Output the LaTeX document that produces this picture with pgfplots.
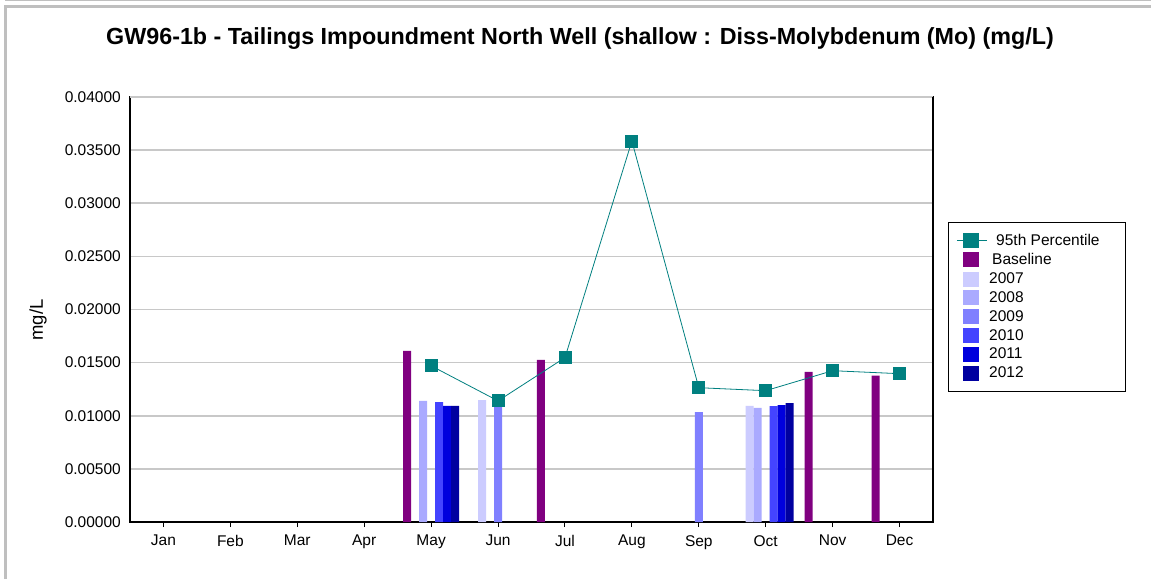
\documentclass[border=0pt]{standalone}
\usepackage{fontspec}
\setmainfont{Liberation Sans}
\usepackage{pgfplots}
\pgfplotsset{compat=1.18}
\definecolor{teal95}{HTML}{008080}
\definecolor{base}{HTML}{800080}
\definecolor{c2007}{HTML}{CCCCFF}
\definecolor{c2008}{HTML}{AAAAFF}
\definecolor{c2009}{HTML}{8080FF}
\definecolor{c2010}{HTML}{4444FF}
\definecolor{c2011}{HTML}{0000DD}
\definecolor{c2012}{HTML}{0000A0}
\definecolor{gridgray}{HTML}{C8C8C8}
\begin{document}
\begin{tikzpicture}[x=1pt,y=1pt]
\useasboundingbox (0,0) rectangle (1151,579);
\fill[white] (0,0) rectangle (1151,579);
\draw[black!25, line width=3pt] (5,0) -- (5,572) -- (1151,572);
\draw[black!25, line width=1pt] (5,578.5) -- (1151,578.5);
\begin{axis}[
  at={(130pt,57pt)}, anchor=south west,
  scale only axis, width=803pt, height=425pt,
  xmin=-0.5, xmax=11.5, ymin=0, ymax=0.04,
  xtick={0,...,11},
  xticklabels={Jan,Feb,Mar,Apr,May,Jun,Jul,Aug,Sep,Oct,Nov,Dec},
  ytick={0,0.005,...,0.0401},
  /pgf/number format/fixed,
  /pgf/number format/fixed zerofill,
  /pgf/number format/precision=5,
  /pgf/number format/assume math mode=true,
  yticklabel style={font=\fontsize{15.5}{18}\selectfont, inner sep=0pt, xshift=-4pt},
  xticklabel style={font=\fontsize{15.5}{18}\selectfont, inner sep=0pt, yshift=-8pt},
  scaled y ticks=false,
  tick align=outside, major tick length=5pt,
  xtick pos=bottom, ytick pos=left,
  ytick style={draw=none},
  xtick style={black, line width=1pt},
  ymajorgrids, grid style={gridgray, line width=1.5pt},
  axis line style={black, line width=1.5pt},
  title={GW96-1b - Tailings Impoundment North Well (shallow : Diss-Molybdenum (Mo) (mg/L)},
  title style={at={(axis description cs:0.5604,1.1224)}, anchor=center, font=\bfseries\fontsize{23.3}{26}\selectfont},
  ylabel={mg/L},
  ylabel style={at={(axis description cs:-0.1146,0.475)}, anchor=center, font=\fontsize{18.5}{21}\selectfont},
  legend style={at={(axis description cs:1.0187,0.7059)}, anchor=north west, draw=black, line width=0.8pt,
    font=\fontsize{15.5}{18}\selectfont, row sep=2.5pt, inner xsep=8pt, inner ysep=10pt},
  legend cell align=left,
]
\addplot[ybar, bar width=8pt, bar shift=-24pt, fill=base, draw=none, forget plot]
  coordinates {(4,0.0161) (6,0.01525) (10,0.01412) (11,0.01377)};
\addplot[ybar, bar width=8pt, bar shift=-16pt, fill=c2007, draw=none, forget plot]
  coordinates {(5,0.01148) (9,0.01092)};
\addplot[ybar, bar width=8pt, bar shift=-8pt, fill=c2008, draw=none, forget plot]
  coordinates {(4,0.01139) (9,0.01073)};
\addplot[ybar, bar width=8pt, bar shift=0pt, fill=c2009, draw=none, forget plot]
  coordinates {(5,0.01132) (8,0.01035)};
\addplot[ybar, bar width=8pt, bar shift=8pt, fill=c2010, draw=none, forget plot]
  coordinates {(4,0.01129) (9,0.0109)};
\addplot[ybar, bar width=8pt, bar shift=16pt, fill=c2011, draw=none, forget plot]
  coordinates {(4,0.01092) (9,0.0110)};
\addplot[ybar, bar width=8pt, bar shift=24pt, fill=c2012, draw=none, forget plot]
  coordinates {(4,0.01092) (9,0.0112)};
\addplot[teal95, line width=0.8pt, mark=square*, mark size=6pt, mark options={solid, fill=teal95, draw=teal95},
  legend image code/.code={\draw[teal95, line width=0.8pt] (0pt,0pt)--(30pt,0pt); \fill[teal95, draw=none] (6pt,-7.5pt) rectangle (22pt,7.5pt);}]
  coordinates {(4,0.0147) (5,0.0114) (6,0.01547) (7,0.03586) (8,0.01264) (9,0.01236) (10,0.01424) (11,0.01396)};
\addlegendentry{\hspace*{7pt}95th Percentile\hspace*{16pt}}
\addlegendimage{legend image code/.code={\path[draw=none] (0pt,0pt)--(30pt,0pt); \fill[base, draw=none] (6pt,-7.5pt) rectangle (22pt,7.5pt);}}
\addlegendentry{\hspace*{3pt}Baseline}
\addlegendimage{legend image code/.code={\path[draw=none] (0pt,0pt)--(30pt,0pt); \fill[c2007, draw=none] (6pt,-7.5pt) rectangle (22pt,7.5pt);}}
\addlegendentry{2007}
\addlegendimage{legend image code/.code={\path[draw=none] (0pt,0pt)--(30pt,0pt); \fill[c2008, draw=none] (6pt,-7.5pt) rectangle (22pt,7.5pt);}}
\addlegendentry{2008}
\addlegendimage{legend image code/.code={\path[draw=none] (0pt,0pt)--(30pt,0pt); \fill[c2009, draw=none] (6pt,-7.5pt) rectangle (22pt,7.5pt);}}
\addlegendentry{2009}
\addlegendimage{legend image code/.code={\path[draw=none] (0pt,0pt)--(30pt,0pt); \fill[c2010, draw=none] (6pt,-7.5pt) rectangle (22pt,7.5pt);}}
\addlegendentry{2010}
\addlegendimage{legend image code/.code={\path[draw=none] (0pt,0pt)--(30pt,0pt); \fill[c2011, draw=none] (6pt,-7.5pt) rectangle (22pt,7.5pt);}}
\addlegendentry{2011}
\addlegendimage{legend image code/.code={\path[draw=none] (0pt,0pt)--(30pt,0pt); \fill[c2012, draw=none] (6pt,-7.5pt) rectangle (22pt,7.5pt);}}
\addlegendentry{2012}
\draw[gridgray, line width=1.5pt] (rel axis cs:0,1) -- (rel axis cs:1,1);
\draw[black, line width=1.5pt] (rel axis cs:1,0) -- (rel axis cs:1,1);
\end{axis}
\end{tikzpicture}
\end{document}
